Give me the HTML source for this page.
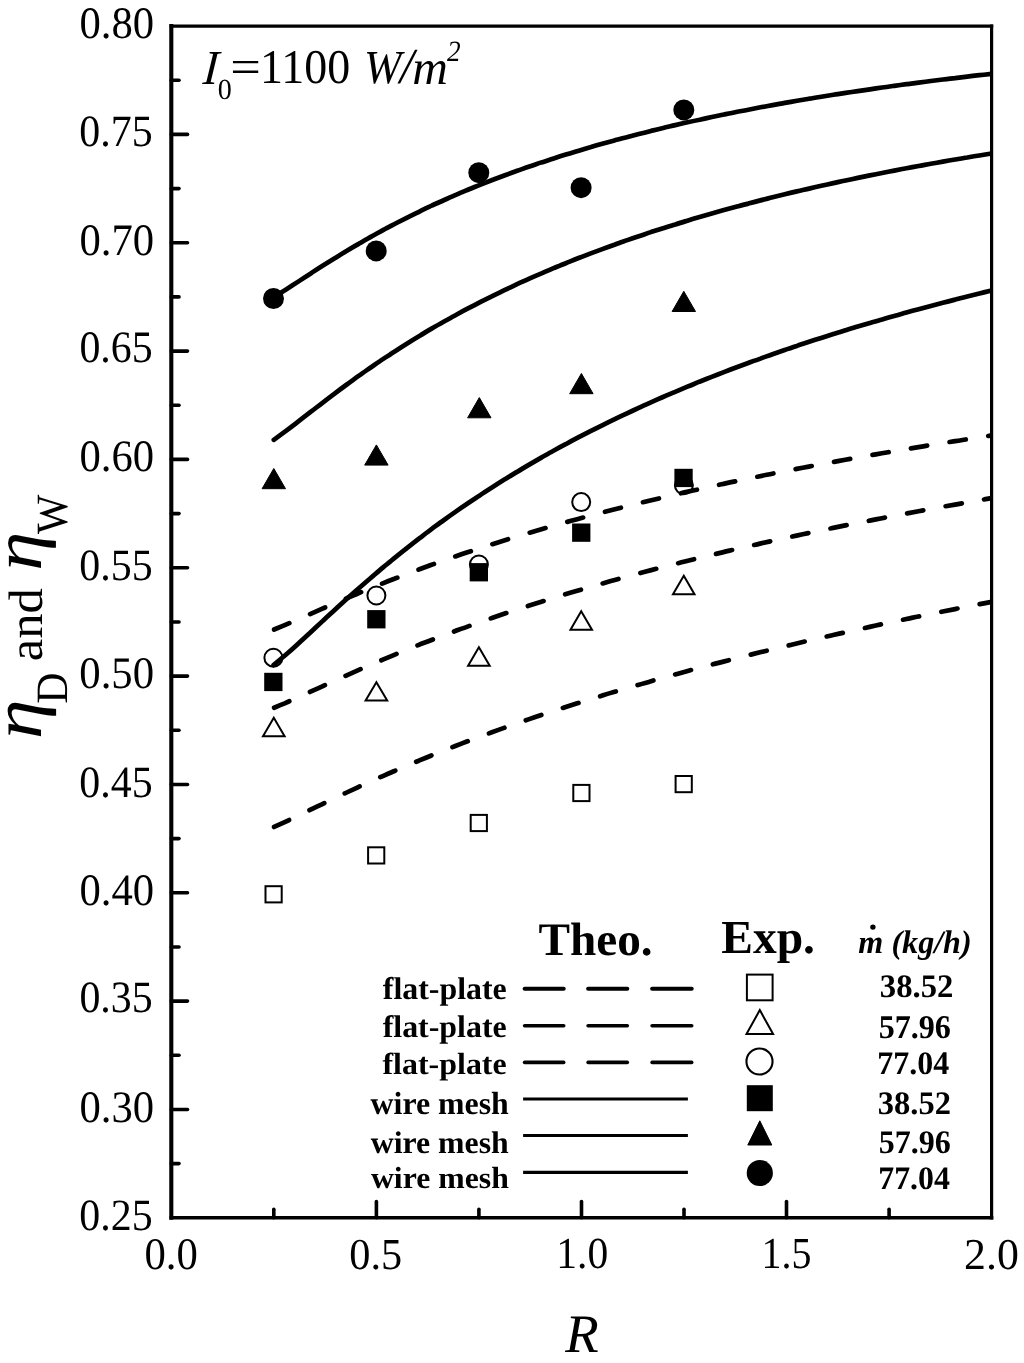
<!DOCTYPE html>
<html><head><meta charset="utf-8"><style>
html,body{margin:0;padding:0;background:#fff;overflow:hidden;width:1024px;height:1363px;}
svg{display:block;will-change:transform;}
text{font-family:"Liberation Serif",serif;text-rendering:geometricPrecision;}
</style></head><body>
<svg width="1024" height="1363" viewBox="0 0 1024 1363">
<rect width="1024" height="1363" fill="#fff"/>
<g stroke="#000" stroke-linecap="square" fill="none">
<line x1="171.3" y1="26.1" x2="171.3" y2="1217.8" stroke-width="4.1"/>
<line x1="171.3" y1="1217.8" x2="991.6" y2="1217.8" stroke-width="3.5"/>
<line x1="171.3" y1="26.1" x2="991.6" y2="26.1" stroke-width="3.3"/>
<line x1="991.6" y1="26.1" x2="991.6" y2="1217.8" stroke-width="3.2"/>
</g>
<g stroke="#000" stroke-width="3.6" stroke-linecap="round">
<line x1="171.3" y1="80.3" x2="179.0" y2="80.3"/>
<line x1="171.3" y1="134.4" x2="187.5" y2="134.4"/>
<line x1="171.3" y1="188.6" x2="179.0" y2="188.6"/>
<line x1="171.3" y1="242.8" x2="187.5" y2="242.8"/>
<line x1="171.3" y1="296.9" x2="179.0" y2="296.9"/>
<line x1="171.3" y1="351.1" x2="187.5" y2="351.1"/>
<line x1="171.3" y1="405.3" x2="179.0" y2="405.3"/>
<line x1="171.3" y1="459.4" x2="187.5" y2="459.4"/>
<line x1="171.3" y1="513.6" x2="179.0" y2="513.6"/>
<line x1="171.3" y1="567.8" x2="187.5" y2="567.8"/>
<line x1="171.3" y1="622.0" x2="179.0" y2="622.0"/>
<line x1="171.3" y1="676.1" x2="187.5" y2="676.1"/>
<line x1="171.3" y1="730.3" x2="179.0" y2="730.3"/>
<line x1="171.3" y1="784.5" x2="187.5" y2="784.5"/>
<line x1="171.3" y1="838.6" x2="179.0" y2="838.6"/>
<line x1="171.3" y1="892.8" x2="187.5" y2="892.8"/>
<line x1="171.3" y1="947.0" x2="179.0" y2="947.0"/>
<line x1="171.3" y1="1001.1" x2="187.5" y2="1001.1"/>
<line x1="171.3" y1="1055.3" x2="179.0" y2="1055.3"/>
<line x1="171.3" y1="1109.5" x2="187.5" y2="1109.5"/>
<line x1="171.3" y1="1163.6" x2="179.0" y2="1163.6"/>
<line x1="273.8" y1="1217.8" x2="273.8" y2="1209.3"/>
<line x1="376.4" y1="1217.8" x2="376.4" y2="1201.5"/>
<line x1="478.9" y1="1217.8" x2="478.9" y2="1209.3"/>
<line x1="581.5" y1="1217.8" x2="581.5" y2="1201.5"/>
<line x1="684.0" y1="1217.8" x2="684.0" y2="1209.3"/>
<line x1="786.5" y1="1217.8" x2="786.5" y2="1201.5"/>
<line x1="889.1" y1="1217.8" x2="889.1" y2="1209.3"/>
</g>
<circle cx="273.4" cy="657.7" r="9.0" fill="none" stroke="#000" stroke-width="2"/>
<circle cx="376.4" cy="595.5" r="9.0" fill="none" stroke="#000" stroke-width="2"/>
<circle cx="478.9" cy="564.5" r="9.0" fill="none" stroke="#000" stroke-width="2"/>
<circle cx="581.2" cy="502.1" r="9.0" fill="none" stroke="#000" stroke-width="2"/>
<circle cx="683.9" cy="485.3" r="9.0" fill="none" stroke="#000" stroke-width="2"/>
<defs><clipPath id="pc"><rect x="171.3" y="0.0" width="820.3" height="1217.8"/></clipPath></defs>
<g fill="none" stroke="#000" stroke-linecap="round" stroke-linejoin="round" clip-path="url(#pc)">
<path d="M273.9,297.2 C275.9,295.9 282.0,292.1 286.1,289.5 C290.1,286.9 294.2,284.2 298.2,281.6 C302.3,278.9 306.3,276.3 310.4,273.7 C314.4,271.0 318.5,268.4 322.6,265.8 C326.6,263.3 330.7,260.7 334.7,258.2 C338.8,255.7 342.8,253.2 346.9,250.8 C350.9,248.3 355.0,245.9 359.1,243.6 C363.1,241.2 367.2,238.9 371.2,236.6 C375.3,234.4 379.3,232.1 383.4,229.9 C387.4,227.7 391.5,225.6 395.5,223.5 C399.6,221.4 403.7,219.3 407.7,217.3 C411.8,215.2 415.8,213.3 419.9,211.3 C423.9,209.3 428.0,207.4 432.0,205.5 C436.1,203.7 440.1,201.8 444.2,200.0 C448.3,198.2 452.3,196.4 456.4,194.7 C460.4,192.9 464.5,191.2 468.5,189.5 C472.6,187.9 476.6,186.2 480.7,184.6 C484.7,183.0 488.8,181.4 492.9,179.8 C496.9,178.3 501.0,176.7 505.0,175.2 C509.1,173.7 513.1,172.3 517.2,170.8 C521.2,169.4 525.3,167.9 529.4,166.5 C533.4,165.1 537.5,163.8 541.5,162.4 C545.6,161.1 549.6,159.7 553.7,158.4 C557.7,157.1 561.8,155.8 565.8,154.6 C569.9,153.3 574.0,152.1 578.0,150.9 C582.1,149.6 586.1,148.4 590.2,147.3 C594.2,146.1 598.3,144.9 602.3,143.8 C606.4,142.6 610.4,141.5 614.5,140.4 C618.6,139.3 622.6,138.2 626.7,137.2 C630.7,136.1 634.8,135.0 638.8,134.0 C642.9,133.0 646.9,132.0 651.0,130.9 C655.1,129.9 659.1,129.0 663.2,128.0 C667.2,127.0 671.3,126.1 675.3,125.1 C679.4,124.2 683.4,123.3 687.5,122.3 C691.5,121.4 695.6,120.5 699.7,119.7 C703.7,118.8 707.8,117.9 711.8,117.0 C715.9,116.2 719.9,115.3 724.0,114.5 C728.0,113.7 732.1,112.9 736.1,112.0 C740.2,111.2 744.3,110.4 748.3,109.7 C752.4,108.9 756.4,108.1 760.5,107.3 C764.5,106.6 768.6,105.8 772.6,105.1 C776.7,104.4 780.8,103.6 784.8,102.9 C788.9,102.2 792.9,101.5 797.0,100.8 C801.0,100.1 805.1,99.4 809.1,98.7 C813.2,98.1 817.2,97.4 821.3,96.7 C825.4,96.1 829.4,95.4 833.5,94.8 C837.5,94.1 841.6,93.5 845.6,92.9 C849.7,92.3 853.7,91.7 857.8,91.1 C861.8,90.5 865.9,89.9 870.0,89.3 C874.0,88.7 878.1,88.1 882.1,87.5 C886.2,87.0 890.2,86.4 894.3,85.8 C898.3,85.3 902.4,84.7 906.4,84.2 C910.5,83.7 914.6,83.1 918.6,82.6 C922.7,82.1 926.7,81.6 930.8,81.0 C934.8,80.5 938.9,80.0 942.9,79.5 C947.0,79.0 951.1,78.5 955.1,78.1 C959.2,77.6 963.2,77.1 967.3,76.6 C971.3,76.2 975.4,75.7 979.4,75.2 C983.5,74.8 989.6,74.1 991.6,73.9" stroke-width="4.70"/>
<path d="M273.8,439.8 C275.8,438.3 281.9,433.9 286.0,430.9 C290.0,427.9 294.1,424.8 298.1,421.6 C302.2,418.5 306.2,415.4 310.3,412.2 C314.4,409.1 318.4,405.9 322.5,402.8 C326.5,399.7 330.6,396.6 334.6,393.6 C338.7,390.5 342.7,387.5 346.8,384.5 C350.9,381.6 354.9,378.6 359.0,375.7 C363.0,372.8 367.1,370.0 371.1,367.2 C375.2,364.4 379.2,361.6 383.3,358.9 C387.4,356.2 391.4,353.5 395.5,350.9 C399.5,348.3 403.6,345.7 407.6,343.2 C411.7,340.6 415.7,338.1 419.8,335.7 C423.8,333.2 427.9,330.8 432.0,328.4 C436.0,326.1 440.1,323.7 444.1,321.5 C448.2,319.2 452.2,316.9 456.3,314.7 C460.3,312.5 464.4,310.3 468.5,308.2 C472.5,306.1 476.6,304.0 480.6,301.9 C484.7,299.8 488.7,297.8 492.8,295.8 C496.8,293.8 500.9,291.9 505.0,289.9 C509.0,288.0 513.1,286.1 517.1,284.2 C521.2,282.4 525.2,280.5 529.3,278.7 C533.3,276.9 537.4,275.1 541.5,273.4 C545.5,271.6 549.6,269.9 553.6,268.2 C557.7,266.5 561.7,264.8 565.8,263.2 C569.8,261.6 573.9,259.9 578.0,258.3 C582.0,256.8 586.1,255.2 590.1,253.6 C594.2,252.1 598.2,250.6 602.3,249.1 C606.3,247.6 610.4,246.1 614.5,244.7 C618.5,243.2 622.6,241.8 626.6,240.4 C630.7,239.0 634.7,237.6 638.8,236.2 C642.8,234.8 646.9,233.5 650.9,232.1 C655.0,230.8 659.1,229.5 663.1,228.2 C667.2,226.9 671.2,225.6 675.3,224.4 C679.3,223.1 683.4,221.9 687.4,220.7 C691.5,219.4 695.6,218.2 699.6,217.1 C703.7,215.9 707.7,214.7 711.8,213.5 C715.8,212.4 719.9,211.2 723.9,210.1 C728.0,209.0 732.1,207.9 736.1,206.8 C740.2,205.7 744.2,204.6 748.3,203.6 C752.3,202.5 756.4,201.4 760.4,200.4 C764.5,199.4 768.6,198.3 772.6,197.3 C776.7,196.3 780.7,195.3 784.8,194.3 C788.8,193.4 792.9,192.4 796.9,191.4 C801.0,190.5 805.1,189.5 809.1,188.6 C813.2,187.6 817.2,186.7 821.3,185.8 C825.3,184.9 829.4,184.0 833.4,183.1 C837.5,182.2 841.6,181.4 845.6,180.5 C849.7,179.6 853.7,178.8 857.8,177.9 C861.8,177.1 865.9,176.2 869.9,175.4 C874.0,174.6 878.0,173.8 882.1,173.0 C886.2,172.2 890.2,171.4 894.3,170.6 C898.3,169.8 902.4,169.0 906.4,168.3 C910.5,167.5 914.5,166.8 918.6,166.0 C922.7,165.3 926.7,164.5 930.8,163.8 C934.8,163.1 938.9,162.3 942.9,161.6 C947.0,160.9 951.0,160.2 955.1,159.5 C959.2,158.8 963.2,158.1 967.3,157.5 C971.3,156.8 975.4,156.1 979.4,155.5 C983.5,154.8 989.6,153.8 991.6,153.5" stroke-width="4.70"/>
<path d="M273.6,665.0 C275.6,663.3 281.7,658.3 285.8,654.8 C289.8,651.3 293.9,647.6 297.9,643.9 C302.0,640.2 306.1,636.4 310.1,632.7 C314.2,628.9 318.2,625.2 322.3,621.4 C326.3,617.6 330.4,613.9 334.4,610.2 C338.5,606.5 342.6,602.8 346.6,599.1 C350.7,595.5 354.7,591.8 358.8,588.3 C362.8,584.7 366.9,581.2 371.0,577.7 C375.0,574.2 379.1,570.8 383.1,567.4 C387.2,564.0 391.2,560.6 395.3,557.3 C399.4,554.0 403.4,550.8 407.5,547.6 C411.5,544.4 415.6,541.2 419.6,538.1 C423.7,535.0 427.7,531.9 431.8,528.9 C435.9,525.9 439.9,522.9 444.0,520.0 C448.0,517.1 452.1,514.2 456.1,511.4 C460.2,508.5 464.3,505.7 468.3,503.0 C472.4,500.2 476.4,497.5 480.5,494.9 C484.5,492.2 488.6,489.6 492.7,487.0 C496.7,484.4 500.8,481.8 504.8,479.3 C508.9,476.8 512.9,474.3 517.0,471.9 C521.0,469.4 525.1,467.0 529.2,464.6 C533.2,462.3 537.3,459.9 541.3,457.6 C545.4,455.3 549.4,453.0 553.5,450.8 C557.6,448.5 561.6,446.3 565.7,444.2 C569.7,442.0 573.8,439.8 577.8,437.7 C581.9,435.6 586.0,433.5 590.0,431.4 C594.1,429.4 598.1,427.3 602.2,425.3 C606.2,423.3 610.3,421.3 614.3,419.4 C618.4,417.4 622.5,415.5 626.5,413.6 C630.6,411.7 634.6,409.8 638.7,407.9 C642.7,406.1 646.8,404.2 650.9,402.4 C654.9,400.6 659.0,398.8 663.0,397.0 C667.1,395.3 671.1,393.5 675.2,391.8 C679.2,390.1 683.3,388.4 687.4,386.7 C691.4,385.0 695.5,383.4 699.5,381.7 C703.6,380.1 707.6,378.5 711.7,376.9 C715.8,375.3 719.8,373.7 723.9,372.1 C727.9,370.6 732.0,369.0 736.0,367.5 C740.1,366.0 744.2,364.5 748.2,363.0 C752.3,361.5 756.3,360.0 760.4,358.6 C764.4,357.1 768.5,355.7 772.5,354.2 C776.6,352.8 780.7,351.4 784.7,350.0 C788.8,348.6 792.8,347.2 796.9,345.9 C800.9,344.5 805.0,343.2 809.1,341.8 C813.1,340.5 817.2,339.2 821.2,337.9 C825.3,336.6 829.3,335.3 833.4,334.0 C837.5,332.8 841.5,331.5 845.6,330.2 C849.6,329.0 853.7,327.8 857.7,326.5 C861.8,325.3 865.8,324.1 869.9,322.9 C874.0,321.7 878.0,320.5 882.1,319.4 C886.1,318.2 890.2,317.0 894.2,315.9 C898.3,314.8 902.4,313.6 906.4,312.5 C910.5,311.4 914.5,310.3 918.6,309.2 C922.6,308.1 926.7,307.0 930.8,305.9 C934.8,304.8 938.9,303.7 942.9,302.7 C947.0,301.6 951.0,300.6 955.1,299.6 C959.1,298.5 963.2,297.5 967.3,296.5 C971.3,295.5 975.4,294.5 979.4,293.5 C983.5,292.5 989.6,291.0 991.6,290.5" stroke-width="4.70"/>
<path d="M272.5,630.2 C274.5,629.3 280.6,626.9 284.7,625.1 C288.8,623.4 292.8,621.7 296.9,619.9 C300.9,618.1 305.0,616.3 309.1,614.6 C313.1,612.8 317.2,611.0 321.3,609.2 C325.3,607.4 329.4,605.7 333.4,603.9 C337.5,602.1 341.6,600.4 345.6,598.7 C349.7,596.9 353.8,595.2 357.8,593.5 C361.9,591.8 365.9,590.2 370.0,588.5 C374.1,586.8 378.1,585.2 382.2,583.6 C386.3,581.9 390.3,580.3 394.4,578.8 C398.4,577.2 402.5,575.6 406.6,574.1 C410.6,572.5 414.7,571.0 418.8,569.5 C422.8,568.0 426.9,566.5 430.9,565.0 C435.0,563.6 439.1,562.1 443.1,560.7 C447.2,559.3 451.3,557.8 455.3,556.4 C459.4,555.0 463.4,553.7 467.5,552.3 C471.6,550.9 475.6,549.6 479.7,548.3 C483.8,546.9 487.8,545.6 491.9,544.3 C495.9,543.0 500.0,541.7 504.1,540.5 C508.1,539.2 512.2,538.0 516.3,536.7 C520.3,535.5 524.4,534.3 528.5,533.0 C532.5,531.8 536.6,530.6 540.6,529.5 C544.7,528.3 548.8,527.1 552.8,526.0 C556.9,524.8 561.0,523.7 565.0,522.5 C569.1,521.4 573.1,520.3 577.2,519.2 C581.3,518.1 585.3,517.0 589.4,515.9 C593.5,514.8 597.5,513.7 601.6,512.7 C605.6,511.6 609.7,510.6 613.8,509.5 C617.8,508.5 621.9,507.5 626.0,506.5 C630.0,505.4 634.1,504.4 638.1,503.4 C642.2,502.4 646.3,501.4 650.3,500.5 C654.4,499.5 658.5,498.5 662.5,497.6 C666.6,496.6 670.6,495.7 674.7,494.7 C678.8,493.8 682.8,492.8 686.9,491.9 C691.0,491.0 695.0,490.1 699.1,489.2 C703.1,488.3 707.2,487.4 711.3,486.5 C715.3,485.6 719.4,484.7 723.5,483.9 C727.5,483.0 731.6,482.1 735.6,481.3 C739.7,480.4 743.8,479.5 747.8,478.7 C751.9,477.9 756.0,477.0 760.0,476.2 C764.1,475.4 768.2,474.5 772.2,473.7 C776.3,472.9 780.3,472.1 784.4,471.3 C788.5,470.5 792.5,469.7 796.6,468.9 C800.7,468.1 804.7,467.4 808.8,466.6 C812.8,465.8 816.9,465.0 821.0,464.3 C825.0,463.5 829.1,462.8 833.2,462.0 C837.2,461.3 841.3,460.5 845.3,459.8 C849.4,459.0 853.5,458.3 857.5,457.6 C861.6,456.9 865.7,456.1 869.7,455.4 C873.8,454.7 877.8,454.0 881.9,453.3 C886.0,452.6 890.0,451.9 894.1,451.2 C898.2,450.5 902.2,449.8 906.3,449.1 C910.3,448.4 914.4,447.8 918.5,447.1 C922.5,446.4 926.6,445.7 930.7,445.1 C934.7,444.4 938.8,443.7 942.8,443.1 C946.9,442.4 951.0,441.8 955.0,441.1 C959.1,440.5 963.2,439.9 967.2,439.2 C971.3,438.6 975.3,437.9 979.4,437.3 C983.5,436.7 989.6,435.8 991.6,435.4" stroke-width="4.70" stroke-dasharray="16.40 22.67" stroke-dashoffset="-1.85"/>
<path d="M272.5,708.4 C274.5,707.5 280.6,705.0 284.7,703.3 C288.8,701.5 292.8,699.7 296.9,697.9 C300.9,696.1 305.0,694.2 309.1,692.4 C313.1,690.5 317.2,688.6 321.3,686.8 C325.3,684.9 329.4,683.1 333.4,681.3 C337.5,679.4 341.6,677.6 345.6,675.8 C349.7,674.0 353.8,672.2 357.8,670.4 C361.9,668.6 365.9,666.8 370.0,665.1 C374.1,663.3 378.1,661.6 382.2,659.9 C386.3,658.2 390.3,656.5 394.4,654.8 C398.4,653.1 402.5,651.4 406.6,649.8 C410.6,648.2 414.7,646.5 418.8,644.9 C422.8,643.3 426.9,641.8 430.9,640.2 C435.0,638.6 439.1,637.1 443.1,635.5 C447.2,634.0 451.3,632.5 455.3,631.0 C459.4,629.5 463.4,628.0 467.5,626.6 C471.6,625.1 475.6,623.7 479.7,622.2 C483.8,620.8 487.8,619.4 491.9,618.0 C495.9,616.6 500.0,615.2 504.1,613.8 C508.1,612.5 512.2,611.1 516.3,609.8 C520.3,608.5 524.4,607.1 528.5,605.8 C532.5,604.5 536.6,603.2 540.6,602.0 C544.7,600.7 548.8,599.4 552.8,598.2 C556.9,596.9 561.0,595.7 565.0,594.4 C569.1,593.2 573.1,592.0 577.2,590.8 C581.3,589.6 585.3,588.4 589.4,587.2 C593.5,586.0 597.5,584.9 601.6,583.7 C605.6,582.6 609.7,581.4 613.8,580.3 C617.8,579.2 621.9,578.0 626.0,576.9 C630.0,575.8 634.1,574.7 638.1,573.6 C642.2,572.5 646.3,571.4 650.3,570.4 C654.4,569.3 658.5,568.2 662.5,567.2 C666.6,566.1 670.6,565.1 674.7,564.1 C678.8,563.0 682.8,562.0 686.9,561.0 C691.0,560.0 695.0,559.0 699.1,558.0 C703.1,557.0 707.2,556.0 711.3,555.0 C715.3,554.0 719.4,553.1 723.5,552.1 C727.5,551.1 731.6,550.2 735.6,549.2 C739.7,548.3 743.8,547.4 747.8,546.4 C751.9,545.5 756.0,544.6 760.0,543.6 C764.1,542.7 768.2,541.8 772.2,540.9 C776.3,540.0 780.3,539.1 784.4,538.2 C788.5,537.3 792.5,536.5 796.6,535.6 C800.7,534.7 804.7,533.9 808.8,533.0 C812.8,532.1 816.9,531.3 821.0,530.4 C825.0,529.6 829.1,528.7 833.2,527.9 C837.2,527.1 841.3,526.2 845.3,525.4 C849.4,524.6 853.5,523.8 857.5,523.0 C861.6,522.2 865.7,521.3 869.7,520.6 C873.8,519.8 877.8,519.0 881.9,518.2 C886.0,517.4 890.0,516.6 894.1,515.8 C898.2,515.0 902.2,514.3 906.3,513.5 C910.3,512.7 914.4,512.0 918.5,511.2 C922.5,510.5 926.6,509.7 930.7,509.0 C934.7,508.2 938.8,507.5 942.8,506.7 C946.9,506.0 951.0,505.3 955.0,504.6 C959.1,503.8 963.2,503.1 967.2,502.4 C971.3,501.7 975.3,501.0 979.4,500.3 C983.5,499.5 989.6,498.5 991.6,498.1" stroke-width="4.70" stroke-dasharray="16.40 22.67" stroke-dashoffset="-1.85"/>
<path d="M272.5,827.7 C274.5,826.8 280.6,824.0 284.7,822.1 C288.8,820.2 292.8,818.2 296.9,816.3 C300.9,814.4 305.0,812.4 309.1,810.4 C313.1,808.5 317.2,806.5 321.3,804.6 C325.3,802.6 329.4,800.7 333.4,798.7 C337.5,796.8 341.6,794.9 345.6,793.0 C349.7,791.1 353.8,789.2 357.8,787.3 C361.9,785.4 365.9,783.6 370.0,781.8 C374.1,779.9 378.1,778.1 382.2,776.3 C386.3,774.5 390.3,772.7 394.4,771.0 C398.4,769.2 402.5,767.5 406.6,765.8 C410.6,764.0 414.7,762.3 418.8,760.7 C422.8,759.0 426.9,757.3 430.9,755.7 C435.0,754.0 439.1,752.4 443.1,750.8 C447.2,749.2 451.3,747.6 455.3,746.0 C459.4,744.4 463.4,742.9 467.5,741.3 C471.6,739.8 475.6,738.3 479.7,736.8 C483.8,735.2 487.8,733.8 491.9,732.3 C495.9,730.8 500.0,729.3 504.1,727.9 C508.1,726.4 512.2,725.0 516.3,723.6 C520.3,722.2 524.4,720.8 528.5,719.4 C532.5,718.0 536.6,716.6 540.6,715.2 C544.7,713.9 548.8,712.5 552.8,711.2 C556.9,709.9 561.0,708.5 565.0,707.2 C569.1,705.9 573.1,704.6 577.2,703.3 C581.3,702.0 585.3,700.8 589.4,699.5 C593.5,698.2 597.5,697.0 601.6,695.8 C605.6,694.5 609.7,693.3 613.8,692.1 C617.8,690.9 621.9,689.6 626.0,688.4 C630.0,687.3 634.1,686.1 638.1,684.9 C642.2,683.7 646.3,682.5 650.3,681.4 C654.4,680.2 658.5,679.1 662.5,678.0 C666.6,676.8 670.6,675.7 674.7,674.6 C678.8,673.4 682.8,672.3 686.9,671.2 C691.0,670.1 695.0,669.0 699.1,668.0 C703.1,666.9 707.2,665.8 711.3,664.7 C715.3,663.7 719.4,662.6 723.5,661.6 C727.5,660.5 731.6,659.5 735.6,658.4 C739.7,657.4 743.8,656.4 747.8,655.4 C751.9,654.3 756.0,653.3 760.0,652.3 C764.1,651.3 768.2,650.3 772.2,649.3 C776.3,648.4 780.3,647.4 784.4,646.4 C788.5,645.4 792.5,644.5 796.6,643.5 C800.7,642.5 804.7,641.6 808.8,640.6 C812.8,639.7 816.9,638.7 821.0,637.8 C825.0,636.9 829.1,635.9 833.2,635.0 C837.2,634.1 841.3,633.2 845.3,632.3 C849.4,631.4 853.5,630.5 857.5,629.6 C861.6,628.7 865.7,627.8 869.7,626.9 C873.8,626.0 877.8,625.1 881.9,624.2 C886.0,623.4 890.0,622.5 894.1,621.6 C898.2,620.8 902.2,619.9 906.3,619.0 C910.3,618.2 914.4,617.3 918.5,616.5 C922.5,615.7 926.6,614.8 930.7,614.0 C934.7,613.2 938.8,612.3 942.8,611.5 C946.9,610.7 951.0,609.9 955.0,609.1 C959.1,608.2 963.2,607.4 967.2,606.6 C971.3,605.8 975.3,605.0 979.4,604.2 C983.5,603.4 989.6,602.3 991.6,601.9" stroke-width="4.70" stroke-dasharray="16.40 22.67" stroke-dashoffset="-1.85"/>
</g>
<polygon points="273.8,717.8 284.6,736.2 263.0,736.2" fill="none" stroke="#000" stroke-width="2" stroke-linejoin="miter"/>
<polygon points="376.4,682.2 387.2,700.6 365.6,700.6" fill="none" stroke="#000" stroke-width="2" stroke-linejoin="miter"/>
<polygon points="478.9,647.3 489.7,665.7 468.1,665.7" fill="none" stroke="#000" stroke-width="2" stroke-linejoin="miter"/>
<polygon points="581.2,611.3 592.0,629.7 570.5,629.7" fill="none" stroke="#000" stroke-width="2" stroke-linejoin="miter"/>
<polygon points="683.8,575.8 694.5,594.2 673.0,594.2" fill="none" stroke="#000" stroke-width="2" stroke-linejoin="miter"/>
<rect x="265.5" y="886.2" width="16.2" height="16.2" fill="none" stroke="#000" stroke-width="2"/>
<rect x="368.1" y="847.3" width="16.2" height="16.2" fill="none" stroke="#000" stroke-width="2"/>
<rect x="470.7" y="814.9" width="16.2" height="16.2" fill="none" stroke="#000" stroke-width="2"/>
<rect x="573.3" y="784.9" width="16.2" height="16.2" fill="none" stroke="#000" stroke-width="2"/>
<rect x="675.6" y="776.0" width="16.2" height="16.2" fill="none" stroke="#000" stroke-width="2"/>
<circle cx="273.5" cy="298.5" r="10.5" fill="#000"/>
<circle cx="376.2" cy="250.9" r="10.5" fill="#000"/>
<circle cx="478.8" cy="172.7" r="10.5" fill="#000"/>
<circle cx="581.1" cy="187.7" r="10.5" fill="#000"/>
<circle cx="683.8" cy="109.9" r="10.5" fill="#000"/>
<polygon points="273.8,468.5 285.5,488.7 262.1,488.7" fill="#000" stroke="#000" stroke-width="1" stroke-linejoin="round"/>
<polygon points="376.4,444.9 388.1,465.1 364.7,465.1" fill="#000" stroke="#000" stroke-width="1" stroke-linejoin="round"/>
<polygon points="479.3,397.6 491.0,417.8 467.6,417.8" fill="#000" stroke="#000" stroke-width="1" stroke-linejoin="round"/>
<polygon points="581.4,373.5 593.1,393.7 569.7,393.7" fill="#000" stroke="#000" stroke-width="1" stroke-linejoin="round"/>
<polygon points="683.8,291.3 695.5,311.5 672.1,311.5" fill="#000" stroke="#000" stroke-width="1" stroke-linejoin="round"/>
<rect x="264.2" y="672.8" width="18.3" height="18.3" fill="#000"/>
<rect x="367.2" y="610.1" width="18.3" height="18.3" fill="#000"/>
<rect x="469.7" y="563.1" width="18.3" height="18.3" fill="#000"/>
<rect x="572.1" y="523.5" width="18.3" height="18.3" fill="#000"/>
<rect x="674.4" y="468.8" width="18.3" height="18.3" fill="#000"/>
<line x1="524.6" y1="988.8" x2="563.7" y2="988.8" stroke="#000" stroke-width="4.0" stroke-linecap="round"/>
<line x1="588.1" y1="988.8" x2="627.3" y2="988.8" stroke="#000" stroke-width="4.0" stroke-linecap="round"/>
<line x1="652.1" y1="988.8" x2="691.7" y2="988.8" stroke="#000" stroke-width="4.0" stroke-linecap="round"/>
<line x1="524.6" y1="1025.7" x2="563.7" y2="1025.7" stroke="#000" stroke-width="3.6" stroke-linecap="round"/>
<line x1="588.1" y1="1025.7" x2="627.3" y2="1025.7" stroke="#000" stroke-width="3.6" stroke-linecap="round"/>
<line x1="652.1" y1="1025.7" x2="691.7" y2="1025.7" stroke="#000" stroke-width="3.6" stroke-linecap="round"/>
<line x1="524.6" y1="1062.4" x2="563.7" y2="1062.4" stroke="#000" stroke-width="3.6" stroke-linecap="round"/>
<line x1="588.1" y1="1062.4" x2="627.3" y2="1062.4" stroke="#000" stroke-width="3.6" stroke-linecap="round"/>
<line x1="652.1" y1="1062.4" x2="691.7" y2="1062.4" stroke="#000" stroke-width="3.6" stroke-linecap="round"/>
<line x1="523.1" y1="1099.0" x2="687.9" y2="1099.0" stroke="#000" stroke-width="3.2"/>
<line x1="523.1" y1="1135.5" x2="687.9" y2="1135.5" stroke="#000" stroke-width="3.2"/>
<line x1="523.1" y1="1172.3" x2="687.9" y2="1172.3" stroke="#000" stroke-width="3.2"/>
<rect x="746.9" y="974.6" width="25.7" height="25.7" fill="none" stroke="#000" stroke-width="2"/>
<polygon points="759.8,1010.1 773.1,1034.1 746.5,1034.1" fill="none" stroke="#000" stroke-width="2" stroke-linejoin="miter"/>
<circle cx="759.5" cy="1061.5" r="13.05" fill="none" stroke="#000" stroke-width="2.1"/>
<rect x="746.8" y="1085.2" width="26.0" height="26.0" fill="#000"/>
<polygon points="759.8,1120.8 771.8,1145.0 747.8,1145.0" fill="#000" stroke="#000" stroke-width="1" stroke-linejoin="round"/>
<circle cx="759.8" cy="1173.0" r="13.1" fill="#000"/>
<text transform="translate(154.08,38.29) scale(0.9701,1.0214)" font-size="44.00" text-anchor="end" font-weight="normal" font-style="normal" fill="#000">0.80</text>
<text transform="translate(152.71,145.76) scale(0.9526,1.0164)" font-size="44.00" text-anchor="end" font-weight="normal" font-style="normal" fill="#000">0.75</text>
<text transform="translate(154.08,255.36) scale(0.9701,1.0214)" font-size="44.00" text-anchor="end" font-weight="normal" font-style="normal" fill="#000">0.70</text>
<text transform="translate(152.72,362.40) scale(0.9525,1.0212)" font-size="44.00" text-anchor="end" font-weight="normal" font-style="normal" fill="#000">0.65</text>
<text transform="translate(154.08,471.06) scale(0.9701,1.0214)" font-size="44.00" text-anchor="end" font-weight="normal" font-style="normal" fill="#000">0.60</text>
<text transform="translate(152.71,580.06) scale(0.9526,1.0164)" font-size="44.00" text-anchor="end" font-weight="normal" font-style="normal" fill="#000">0.55</text>
<text transform="translate(154.11,687.62) scale(0.9717,1.0252)" font-size="44.00" text-anchor="end" font-weight="normal" font-style="normal" fill="#000">0.50</text>
<text transform="translate(152.71,796.74) scale(0.9526,1.0164)" font-size="44.00" text-anchor="end" font-weight="normal" font-style="normal" fill="#000">0.45</text>
<text transform="translate(154.08,905.37) scale(0.9701,1.0214)" font-size="44.00" text-anchor="end" font-weight="normal" font-style="normal" fill="#000">0.40</text>
<text transform="translate(152.71,1012.37) scale(0.9521,1.0180)" font-size="44.00" text-anchor="end" font-weight="normal" font-style="normal" fill="#000">0.35</text>
<text transform="translate(154.08,1122.05) scale(0.9701,1.0210)" font-size="44.00" text-anchor="end" font-weight="normal" font-style="normal" fill="#000">0.30</text>
<text transform="translate(152.72,1230.07) scale(0.9526,1.0163)" font-size="44.00" text-anchor="end" font-weight="normal" font-style="normal" fill="#000">0.25</text>
<text transform="translate(171.07,1268.88) scale(0.9707,1.0241)" font-size="44.00" text-anchor="middle" font-weight="normal" font-style="normal" fill="#000">0.0</text>
<text transform="translate(375.80,1268.73) scale(0.9615,1.0038)" font-size="44.00" text-anchor="middle" font-weight="normal" font-style="normal" fill="#000">0.5</text>
<text transform="translate(582.30,1267.92) scale(0.9448,1.0093)" font-size="44.00" text-anchor="middle" font-weight="normal" font-style="normal" fill="#000">1.0</text>
<text transform="translate(786.48,1268.20) scale(0.9071,1.0112)" font-size="44.00" text-anchor="middle" font-weight="normal" font-style="normal" fill="#000">1.5</text>
<text transform="translate(991.48,1268.68) scale(0.9970,1.0015)" font-size="44.00" text-anchor="middle" font-weight="normal" font-style="normal" fill="#000">2.0</text>
<text transform="translate(581.95,1351.77) scale(1.0147,1.0006)" font-size="54.00" text-anchor="middle" font-weight="normal" font-style="italic" fill="#000">R</text>
<text transform="translate(202.14,83.70) scale(1.0000,1.0605) skewX(-4.50)" font-size="46.00" text-anchor="start" font-weight="normal" font-style="italic" fill="#000">I</text>
<text transform="translate(217.82,99.48) scale(0.9793,1.0163)" font-size="28.70" text-anchor="start" font-weight="normal" font-style="normal" fill="#000">0</text>
<text transform="translate(230.28,82.60) scale(1.1806,1.0500)" font-size="46.00" text-anchor="start" font-weight="normal" font-style="normal" fill="#000">=</text>
<text transform="translate(260.00,83.19) scale(0.9995,1.0504)" font-size="46.00" text-anchor="start" font-weight="normal" font-style="normal" fill="#000">1100</text>
<text transform="translate(363.97,82.56) scale(0.9770,1.0271)" font-size="46.00" text-anchor="start" font-weight="normal" font-style="italic" fill="#000">W</text>
<text transform="translate(399.83,82.94) scale(1.0958,1.1007)" font-size="46.00" text-anchor="start" font-weight="normal" font-style="italic" fill="#000">/</text>
<text transform="translate(412.14,83.60) scale(1.0746,1.0610)" font-size="46.00" text-anchor="start" font-weight="normal" font-style="italic" fill="#000">m</text>
<text transform="translate(446.88,60.60) scale(0.9490,1.0267)" font-size="28.70" text-anchor="start" font-weight="normal" font-style="italic" fill="#000">2</text>
<text transform="translate(41.48,739.11) rotate(-90) scale(1.1354,1.0118)" font-size="70.00" text-anchor="start" font-weight="normal" font-style="italic" fill="#000">&#951;</text>
<text transform="translate(67.19,703.63) rotate(-90) scale(1.0080,1.0418)" font-size="43.00" text-anchor="start" font-weight="normal" font-style="normal" fill="#000">D</text>
<text transform="translate(42.04,661.24) rotate(-90) scale(1.0298,0.9860)" font-size="49.00" text-anchor="start" font-weight="normal" font-style="normal" fill="#000">and</text>
<text transform="translate(41.32,570.74) rotate(-90) scale(1.1250,0.9991)" font-size="70.00" text-anchor="start" font-weight="normal" font-style="italic" fill="#000">&#951;</text>
<text transform="translate(67.10,534.08) rotate(-90) scale(0.9668,1.0404)" font-size="43.00" text-anchor="start" font-weight="normal" font-style="normal" fill="#000">W</text>
<text transform="translate(538.38,954.52) scale(1.0270,1.0144)" font-size="46.00" text-anchor="start" font-weight="bold" font-style="normal" fill="#000">Theo.</text>
<text transform="translate(721.17,953.35) scale(1.0335,1.0285)" font-size="46.00" text-anchor="start" font-weight="bold" font-style="normal" fill="#000">Exp.</text>
<text transform="translate(858.37,952.82) scale(1.0360,1.0548)" font-size="31.00" text-anchor="start" font-weight="bold" font-style="italic" fill="#000">m (kg/h)</text>
<text transform="translate(382.80,998.86) scale(1.0119,1.0000)" font-size="31.50" text-anchor="start" font-weight="bold" font-style="normal" fill="#000">flat-plate</text>
<text transform="translate(382.64,1036.75) scale(1.0132,0.9923)" font-size="31.50" text-anchor="start" font-weight="bold" font-style="normal" fill="#000">flat-plate</text>
<text transform="translate(382.44,1073.82) scale(1.0146,0.9717)" font-size="31.50" text-anchor="start" font-weight="bold" font-style="normal" fill="#000">flat-plate</text>
<text transform="translate(370.61,1114.49) scale(1.0105,1.0138)" font-size="31.50" text-anchor="start" font-weight="bold" font-style="normal" fill="#000">wire mesh</text>
<text transform="translate(370.68,1153.07) scale(1.0100,0.9947)" font-size="31.50" text-anchor="start" font-weight="bold" font-style="normal" fill="#000">wire mesh</text>
<text transform="translate(370.92,1188.48) scale(1.0083,0.9684)" font-size="31.50" text-anchor="start" font-weight="bold" font-style="normal" fill="#000">wire mesh</text>
<text transform="translate(879.80,997.13) scale(1.0215,1.0271)" font-size="32.00" text-anchor="start" font-weight="bold" font-style="normal" fill="#000">38.52</text>
<text transform="translate(878.70,1037.75) scale(1.0028,1.0364)" font-size="32.00" text-anchor="start" font-weight="bold" font-style="normal" fill="#000">57.96</text>
<text transform="translate(877.23,1074.15) scale(0.9991,1.0270)" font-size="32.00" text-anchor="start" font-weight="bold" font-style="normal" fill="#000">77.04</text>
<text transform="translate(877.77,1114.19) scale(1.0154,1.0276)" font-size="32.00" text-anchor="start" font-weight="bold" font-style="normal" fill="#000">38.52</text>
<text transform="translate(878.69,1153.27) scale(0.9998,1.0285)" font-size="32.00" text-anchor="start" font-weight="bold" font-style="normal" fill="#000">57.96</text>
<text transform="translate(878.21,1189.25) scale(0.9963,1.0227)" font-size="32.00" text-anchor="start" font-weight="bold" font-style="normal" fill="#000">77.04</text>
<circle cx="872.9" cy="927.1" r="2.7" fill="#000"/>
</svg></body></html>
